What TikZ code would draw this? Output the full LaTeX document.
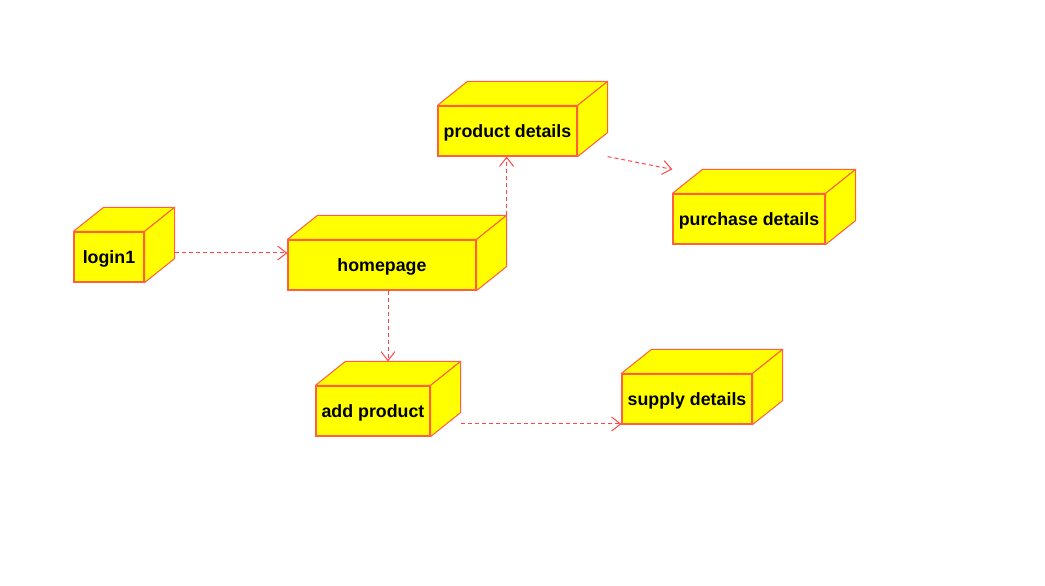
\documentclass[tikz,border=0pt]{standalone}
\usepackage{fontspec}
\setmainfont{Liberation Sans}
\usetikzlibrary{positioning}
\usetikzlibrary{arrows.meta}
\definecolor{boxred}{RGB}{255,96,64}
\definecolor{boxyellow}{RGB}{255,255,0}
\definecolor{depred}{RGB}{255,70,70}

\begin{document}
\begin{tikzpicture}[x=1pt,y=1pt,
  devnode/.style={draw=boxred,fill=boxyellow,line width=1.2pt,minimum height=50pt,inner sep=0pt,text depth=0pt,font=\bfseries\fontsize{17.8}{20}\selectfont},
  devface/.style={draw=boxred,fill=boxyellow,line width=1pt,line join=round},
  dep/.style={draw=depred,line width=1pt,dash pattern=on 4pt off 3pt,-{Straight Barb[length=9pt,width=14pt,line width=1pt]}}]
  \useasboundingbox (0,0) rectangle (1045,586);
  %left
  \node[devnode,minimum width=70pt] (login) at (109,329) {login1};
  \node[devnode,minimum width=188pt] (home) at (382,321) {homepage};
  %top
  \node[devnode,minimum width=139pt] (prod) at (507.5,455) {product details};
  \node[devnode,minimum width=152pt] (purch) at (749,367) {purchase details};
  %bottom
  \node[devnode,minimum width=114pt] (addp) at (373,175) {add product};
  \node[devnode,minimum width=130pt] (supply) at (687,187) {supply details};
  %depth faces
  \foreach \n in {login,home,prod,purch,addp,supply}{
    \filldraw[devface] (\n.north west) -- ++(30,24) -- ([shift={(30,24)}]\n.north east) -- (\n.north east) -- cycle;
    \filldraw[devface] (\n.north east) -- ++(30,24) -- ([shift={(30,24)}]\n.south east) -- (\n.south east) -- cycle;
  }
  %dependencies
  \coordinate (loginout) at ([shift={(30,4)}]login.east);
  \draw[dep] (loginout) -- (loginout -| home.west);
  \coordinate (homeup) at ([shift={(30,24)}]home.north east);
  \draw[dep] (homeup) -- (homeup |- prod.south);
  \coordinate (prodout) at ([xshift=30]prod.south east);
  \coordinate (purchin) at ([yshift=24]purch.north west);
  \draw[dep] (prodout) -- (purchin);
  \coordinate (homedown) at ([xshift=6]home.south);
  \coordinate (addpin) at ([yshift=24]addp.north);
  \draw[dep] (homedown) -- (homedown |- addpin);
  \coordinate (addpout) at ([shift={(30,-13)}]addp.east);
  \draw[dep] (addpout) -- (addpout -| supply.west);
\end{tikzpicture}
\end{document}
